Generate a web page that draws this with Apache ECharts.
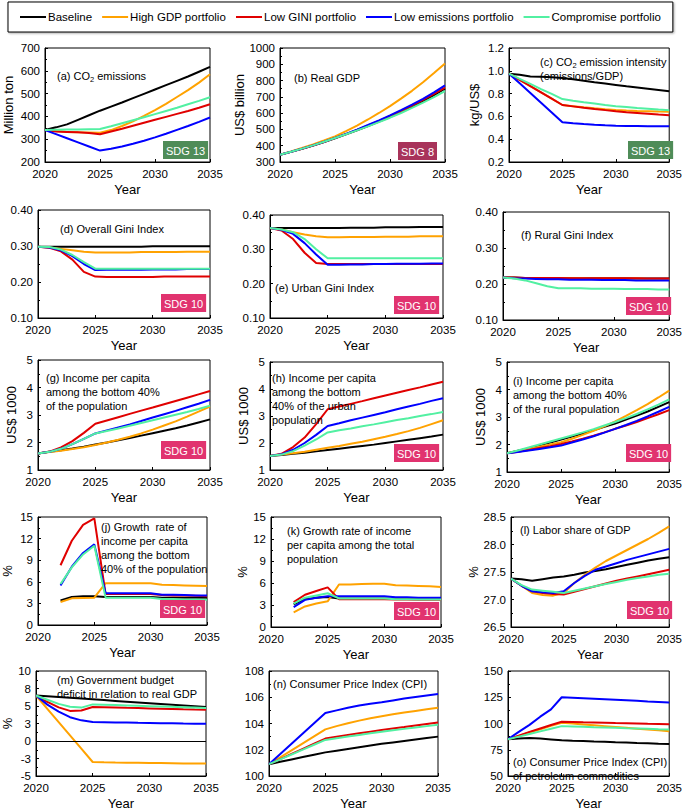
<!DOCTYPE html>
<html>
<head>
<meta charset="utf-8">
<script src="https://cdn.jsdelivr.net/npm/echarts@6/dist/echarts.min.js"></script>
<style>
html,body{margin:0;padding:0;background:#fff;}
#chart{width:685px;height:811px;}
</style>
</head>
<body>
<div id="chart"></div>
<script>
// ---------- data ----------
const years = [2020,2021,2022,2023,2024,2025,2026,2027,2028,2029,2030,2031,2032,2033,2034,2035];
const scenarioNames = ['Baseline','High GDP portfolio','Low GINI portfolio','Low emissions portfolio','Compromise portfolio'];

// (a) CO2 emissions, million ton
const co2Base = [340,352,365,385,405,425,443,461,480,499,518,537,556,575,596,617];
const co2Gdp  = [340,336,332,330,329,328,340,358,378,402,428,455,485,515,548,585];
const co2Gini = [340,334,332,330,327,322,334,346,359,372,385,398,411,424,438,453];
const co2Emis = [340,322,304,286,268,250,258,268,280,293,308,324,341,358,376,395];
const co2Comp = [340,341,342,343,344,345,357,370,383,396,410,424,438,453,468,484];

// (b) Real GDP, US$ billion
const gdpBase = [345,362,381,401,423,446,470,495,521,548,576,606,638,672,710,750];
const gdpGdp  = [345,365,386,408,432,457,489,524,561,601,643,689,737,790,846,905];
const gdpGini = [345,362,381,401,423,447,471,497,524,552,582,613,646,681,718,757];
const gdpEmis = [345,363,382,402,424,448,473,499,527,556,586,618,652,688,728,770];
const gdpComp = [345,363,382,402,424,447,470,494,519,545,572,601,632,664,698,735];

// (c) CO2 emission intensity, kg/US$
const intBase = [0.975,0.965,0.95,0.947,0.943,0.937,0.925,0.913,0.9,0.888,0.876,0.864,0.853,0.842,0.831,0.82];
const intGdp  = [0.975,0.92,0.865,0.81,0.755,0.70,0.69,0.68,0.671,0.663,0.657,0.652,0.648,0.645,0.642,0.64];
const intGini = [0.975,0.92,0.865,0.81,0.755,0.70,0.688,0.676,0.665,0.655,0.645,0.637,0.63,0.623,0.616,0.61];
const intEmis = [0.975,0.89,0.805,0.72,0.635,0.548,0.54,0.533,0.527,0.522,0.518,0.516,0.515,0.514,0.513,0.513];
const intComp = [0.975,0.93,0.885,0.84,0.797,0.752,0.738,0.725,0.713,0.70,0.69,0.682,0.674,0.667,0.66,0.655];

// (d) Overall Gini
const giniBase = [0.298,0.298,0.298,0.298,0.298,0.298,0.298,0.298,0.298,0.298,0.299,0.299,0.299,0.299,0.299,0.299];
const giniGdp  = [0.298,0.296,0.292,0.288,0.284,0.282,0.282,0.282,0.282,0.283,0.283,0.283,0.283,0.284,0.284,0.284];
const giniGini = [0.298,0.295,0.285,0.262,0.228,0.215,0.214,0.214,0.214,0.214,0.214,0.215,0.215,0.215,0.215,0.215];
const giniEmis = [0.298,0.296,0.288,0.272,0.25,0.233,0.234,0.234,0.234,0.234,0.235,0.235,0.235,0.236,0.236,0.236];
const giniComp = [0.298,0.297,0.29,0.275,0.255,0.237,0.237,0.237,0.237,0.237,0.237,0.237,0.237,0.237,0.237,0.237];

// (e) Urban Gini
const urbBase = [0.362,0.362,0.362,0.362,0.362,0.362,0.362,0.363,0.363,0.363,0.364,0.364,0.364,0.365,0.365,0.365];
const urbGdp  = [0.362,0.358,0.350,0.343,0.338,0.335,0.335,0.336,0.336,0.336,0.337,0.337,0.337,0.338,0.338,0.338];
const urbGini = [0.362,0.355,0.33,0.29,0.26,0.257,0.257,0.257,0.257,0.257,0.257,0.257,0.257,0.257,0.257,0.257];
const urbEmis = [0.362,0.357,0.345,0.318,0.285,0.255,0.255,0.256,0.256,0.257,0.257,0.258,0.258,0.258,0.259,0.259];
const urbComp = [0.362,0.358,0.35,0.33,0.30,0.274,0.274,0.274,0.274,0.274,0.274,0.274,0.274,0.274,0.274,0.274];

// (f) Rural Gini
const rurBase = [0.218,0.218,0.217,0.217,0.217,0.217,0.217,0.216,0.216,0.216,0.216,0.216,0.215,0.215,0.215,0.215];
const rurGdp  = [0.218,0.217,0.217,0.216,0.216,0.216,0.216,0.216,0.215,0.215,0.215,0.215,0.215,0.214,0.214,0.214];
const rurGini = [0.218,0.218,0.217,0.217,0.217,0.217,0.216,0.216,0.216,0.216,0.216,0.216,0.216,0.215,0.215,0.215];
const rurEmis = [0.218,0.216,0.215,0.214,0.213,0.213,0.212,0.212,0.212,0.211,0.211,0.211,0.210,0.210,0.210,0.210];
const rurComp = [0.218,0.215,0.21,0.202,0.194,0.188,0.188,0.188,0.187,0.187,0.187,0.186,0.186,0.186,0.185,0.185];

// (g) Income per capita bottom 40%, US$ 1000
const incBase = [1.6,1.66,1.72,1.78,1.85,1.93,2.0,2.08,2.16,2.25,2.34,2.43,2.52,2.62,2.73,2.84];
const incGdp  = [1.6,1.65,1.7,1.76,1.83,1.91,2.0,2.1,2.21,2.33,2.47,2.62,2.77,2.94,3.12,3.31];
const incGini = [1.6,1.67,1.82,2.05,2.35,2.68,2.80,2.92,3.04,3.16,3.27,3.39,3.51,3.63,3.75,3.87];
const incEmis = [1.6,1.66,1.77,1.94,2.13,2.33,2.44,2.55,2.66,2.78,2.91,3.03,3.15,3.28,3.41,3.55];
const incComp = [1.6,1.66,1.77,1.94,2.13,2.33,2.42,2.51,2.61,2.71,2.81,2.91,3.01,3.11,3.22,3.34];

// (h) Income per capita bottom 40% urban
const urbIncBase = [1.52,1.56,1.6,1.64,1.69,1.74,1.79,1.84,1.89,1.94,2.0,2.06,2.12,2.18,2.24,2.31];
const urbIncGdp  = [1.52,1.57,1.62,1.68,1.75,1.82,1.89,1.97,2.05,2.14,2.23,2.33,2.44,2.56,2.7,2.84];
const urbIncGini = [1.52,1.6,1.85,2.2,2.7,3.25,3.35,3.45,3.55,3.66,3.76,3.86,3.96,4.06,4.17,4.27];
const urbIncEmis = [1.52,1.58,1.75,2.0,2.3,2.63,2.73,2.84,2.94,3.04,3.14,3.25,3.35,3.45,3.56,3.66];
const urbIncComp = [1.52,1.57,1.7,1.9,2.13,2.39,2.47,2.54,2.62,2.69,2.77,2.85,2.92,3.0,3.07,3.15];

// (i) Income per capita bottom 40% rural
const rurIncBase = [1.68,1.77,1.86,1.97,2.07,2.18,2.29,2.40,2.52,2.64,2.76,2.91,3.05,3.2,3.37,3.54];
const rurIncGdp  = [1.68,1.76,1.84,1.92,2.0,2.08,2.21,2.35,2.5,2.66,2.84,3.04,3.25,3.47,3.71,3.96];
const rurIncGini = [1.68,1.74,1.8,1.87,1.94,2.02,2.11,2.21,2.32,2.44,2.57,2.69,2.82,2.96,3.1,3.25];
const rurIncEmis = [1.68,1.73,1.78,1.84,1.9,1.96,2.07,2.18,2.3,2.43,2.57,2.71,2.86,3.02,3.19,3.37];
const rurIncComp = [1.68,1.78,1.89,2.0,2.11,2.22,2.33,2.44,2.56,2.69,2.82,2.96,3.11,3.28,3.45,3.64];

// (j) Growth rate of income per capita bottom 40%, %
const grBase = [null,null,3.4,3.9,4.0,4.0,3.9,3.9,3.9,3.9,3.9,3.8,3.8,3.8,3.8,3.8];
const grGdp  = [null,null,3.2,3.7,3.75,3.8,5.8,5.8,5.8,5.8,5.8,5.6,5.55,5.5,5.45,5.4];
const grGini = [null,null,8.3,11.7,13.9,14.8,4.3,4.3,4.3,4.3,4.3,4.15,4.1,4.1,4.05,4.0];
const grEmis = [null,null,5.5,8.1,10.0,11.2,4.4,4.4,4.4,4.4,4.4,4.2,4.2,4.15,4.1,4.1];
const grComp = [null,null,5.7,8.0,9.8,11.0,3.8,3.8,3.8,3.8,3.8,3.6,3.6,3.55,3.55,3.5];

// (k) Growth rate of income per capita total, %
const gtBase = [null,null,3.1,3.8,4.0,4.1,3.9,3.9,3.9,3.9,3.9,3.85,3.85,3.85,3.85,3.85];
const gtGdp  = [null,null,2.0,2.8,3.2,3.5,5.8,5.8,5.85,5.9,5.9,5.7,5.65,5.6,5.55,5.45];
const gtGini = [null,null,3.4,4.4,4.9,5.4,3.8,3.8,3.8,3.8,3.8,3.75,3.75,3.7,3.7,3.7];
const gtEmis = [null,null,2.7,3.7,4.0,4.2,4.2,4.2,4.2,4.2,4.2,4.05,4.05,4.0,4.0,4.0];
const gtComp = [null,null,3.2,4.0,4.3,4.6,3.9,3.9,3.9,3.9,3.9,3.8,3.8,3.75,3.75,3.75];

// (l) Labor share of GDP, %
const labBase = [27.38,27.37,27.34,27.37,27.40,27.42,27.45,27.49,27.52,27.55,27.59,27.63,27.67,27.71,27.74,27.77];
const labGdp  = [27.38,27.25,27.12,27.08,27.07,27.12,27.3,27.45,27.58,27.7,27.8,27.9,28.0,28.1,28.21,28.33];
const labGini = [27.38,27.25,27.15,27.12,27.1,27.09,27.14,27.19,27.24,27.29,27.34,27.38,27.42,27.46,27.5,27.54];
const labEmis = [27.38,27.25,27.15,27.13,27.12,27.15,27.3,27.43,27.54,27.6,27.66,27.72,27.77,27.82,27.87,27.92];
const labComp = [27.38,27.26,27.18,27.16,27.14,27.12,27.16,27.2,27.24,27.28,27.32,27.36,27.39,27.42,27.45,27.47];

// (m) Government budget deficit / real GDP, %
const defBase = [6.5,6.39,6.28,6.17,6.06,5.95,5.84,5.73,5.62,5.51,5.4,5.29,5.18,5.07,4.96,4.85];
const defGdp  = [6.5,4.6,2.7,0.8,-1.1,-3.0,-3.05,-3.08,-3.1,-3.12,-3.14,-3.16,-3.18,-3.2,-3.21,-3.23];
const defGini = [6.5,5.6,4.8,4.3,4.35,4.86,4.82,4.78,4.74,4.7,4.66,4.62,4.58,4.53,4.49,4.45];
const defEmis = [6.5,5.2,4.2,3.4,2.95,2.7,2.68,2.65,2.63,2.6,2.58,2.55,2.53,2.5,2.48,2.45];
const defComp = [6.5,5.9,5.3,4.9,4.77,5.23,5.18,5.13,5.08,5.03,4.98,4.93,4.88,4.83,4.78,4.73];

// (n) CPI
const cpiBase = [100.9,101.08,101.26,101.44,101.62,101.8,101.93,102.06,102.19,102.32,102.45,102.56,102.67,102.78,102.89,103.0];
const cpiGdp  = [100.9,101.43,101.96,102.49,103.02,103.55,103.8,104.02,104.22,104.4,104.56,104.7,104.84,104.96,105.08,105.2];
const cpiGini = [100.9,101.29,101.68,102.07,102.46,102.85,102.99,103.13,103.26,103.38,103.5,103.62,103.73,103.85,103.96,104.07];
const cpiEmis = [100.9,101.68,102.46,103.24,104.02,104.8,105.0,105.2,105.37,105.5,105.62,105.76,105.9,106.02,106.14,106.25];
const cpiComp = [100.9,101.27,101.64,102.01,102.38,102.75,102.88,103.01,103.13,103.25,103.37,103.48,103.59,103.7,103.8,103.9];

// (o) CPI of petroleum commodities
const petBase = [85,85.6,86.1,85.6,84.8,84.0,83.6,83.3,82.9,82.6,82.2,81.9,81.5,81.2,80.8,80.5];
const petGdp  = [85,88.2,91.5,94.6,97.7,100.7,99.9,99.1,98.3,97.5,96.7,95.9,95.1,94.3,93.5,92.7];
const petGini = [85,88.5,92,95.3,98.5,101.6,101.4,101.1,100.9,100.7,100.4,100.2,100,99.7,99.5,99.2];
const petEmis = [85,92,98.7,106.5,113.5,125,124.6,124.1,123.6,123.1,122.6,122.1,121.6,121.0,120.5,120.0];
const petComp = [85,87.5,90,92.5,95,97.5,97.2,96.9,96.5,96.2,95.9,95.5,95.2,94.9,94.5,94.2];

// ---------- layout & styling ----------
const FONT = 'Liberation Sans, Arial, sans-serif';
const lineColors = ['#000000','#ffa200','#e00000','#0000ff','#52f0a2'];
const SDG13 = '#4f8c58', SDG8 = '#a8335a', SDG10 = '#e1336f';

const panels = [
  {data:[co2Base,co2Gdp,co2Gini,co2Emis,co2Comp], g:[45,48,165,114], y:[200,700,100], yName:'Million ton', nameGap:30, dec:0,
   title:'(a) CO{sub|2} emissions', tPos:[57,69], sdg:['SDG 13',SDG13,163,141]},
  {data:[gdpBase,gdpGdp,gdpGini,gdpEmis,gdpComp], g:[280,48,165,114], y:[300,1000,100], yName:'US$ billion', nameGap:34, dec:0,
   title:'(b) Real GDP', tPos:[294,71], sdg:['SDG 8',SDG8,398,142]},
  {data:[intBase,intGdp,intGini,intEmis,intComp], g:[509,48,164,114], y:[0.2,1.2,0.2], yName:'kg/US$', nameGap:28, dec:1,
   title:'(c) CO{sub|2} emission intensity\n(emissions/GDP)', tPos:[540,55], sdg:['SDG 13',SDG13,628,141]},
  {data:[giniBase,giniGdp,giniGini,giniEmis,giniComp], g:[38,210,172,108], y:[0.1,0.4,0.1], yName:'', nameGap:0, dec:2,
   title:'(d) Overall Gini Index', tPos:[60,222], sdg:['SDG 10',SDG10,161,294]},
  {data:[urbBase,urbGdp,urbGini,urbEmis,urbComp], g:[270,215,173,103], y:[0.1,0.4,0.1], yName:'', nameGap:0, dec:2,
   title:'(e) Urban Gini Index', tPos:[275,281], sdg:['SDG 10',SDG10,394,296]},
  {data:[rurBase,rurGdp,rurGini,rurEmis,rurComp], g:[503,212,172,108], y:[0.1,0.4,0.1], yName:'', nameGap:0, dec:2,
   title:'(f) Rural Gini Index', tPos:[521,228], sdg:['SDG 10',SDG10,626,297]},
  {data:[incBase,incGdp,incGini,incEmis,incComp], g:[38,360,172,110], y:[1,5,1], yName:'US$ 1000', nameGap:20, dec:0,
   title:'(g) Income per capita\namong the bottom 40%\nof the population', tPos:[46,371], sdg:['SDG 10',SDG10,161,441]},
  {data:[urbIncBase,urbIncGdp,urbIncGini,urbIncEmis,urbIncComp], g:[270,362,173,108], y:[1,5,1], yName:'US$ 1000', nameGap:20, dec:0,
   title:'(h) Income per capita\namong the bottom\n40% of the urban\npopulation', tPos:[272,371], sdg:['SDG 10',SDG10,394,444]},
  {data:[rurIncBase,rurIncGdp,rurIncGini,rurIncEmis,rurIncComp], g:[507,362,168,110], y:[1,5,1], yName:'US$ 1000', nameGap:20, dec:0,
   title:'(i) Income per capita\namong the bottom 40%\nof the rural population', tPos:[513,374], sdg:['SDG 10',SDG10,626,444]},
  {data:[grBase,grGdp,grGini,grEmis,grComp], g:[36,517,171,108], y:[0,15,3], yName:'%', nameGap:24, dec:0,
   title:'(j) Growth  rate of\nincome per capita\namong the bottom\n40% of the population', tPos:[101,520], sdg:['SDG 10',SDG10,160,600]},
  {data:[gtBase,gtGdp,gtGini,gtEmis,gtComp], g:[271,517,170,110], y:[0,15,3], yName:'%', nameGap:22, dec:0,
   title:'(k) Growth rate of income\nper capita among the total\npopulation', tPos:[287,524], sdg:['SDG 10',SDG10,394,602]},
  {data:[labBase,labGdp,labGini,labEmis,labComp], g:[511,517,162,110], y:[26.5,28.5,0.5], yName:'%', nameGap:24, dec:1,
   title:'(l) Labor share of GDP', tPos:[520,523], sdg:['SDG 10',SDG10,627,601]},
  {data:[defBase,defGdp,defGini,defEmis,defComp], g:[34,671,172,109], y:[-5,10,2.5], yName:'%', nameGap:22, dec:-1, zero:true,
   title:'(m) Government budget\ndeficit in relation to real GDP', tPos:[57,673], sdg:null},
  {data:[cpiBase,cpiGdp,cpiGini,cpiEmis,cpiComp], g:[269,671,169,111], y:[100,108,2], yName:'', nameGap:0, dec:0,
   title:'(n) Consumer Price Index (CPI)', tPos:[273,677], sdg:null},
  {data:[petBase,petGdp,petGini,petEmis,petComp], g:[508,671,165,112], y:[50,150,25], yName:'', nameGap:0, dec:0,
   title:'(o) Consumer Price Index (CPI)\nof petroleum commodities', tPos:[513,755], sdg:null}
];

const grids = [], xAxes = [], yAxes = [], series = [], titles = [];
panels.forEach((p, i) => {
  grids.push({left:p.g[0], top:p.g[1], width:p.g[2], height:p.g[3], show:true,
    borderColor:'#000', borderWidth:1, backgroundColor:'transparent', containLabel:false});
  xAxes.push({type:'value', gridIndex:i, min:2020, max:2035, interval:5,
    name:'Year', nameLocation:'middle', nameGap:21,
    nameTextStyle:{fontFamily:FONT, fontSize:13, color:'#000'},
    axisLine:{onZero:false, lineStyle:{color:'#000', width:1}},
    axisTick:{inside:true, length:3, lineStyle:{color:'#000'}},
    axisLabel:{fontFamily:FONT, fontSize:11.5, color:'#000', margin:6, formatter: v => String(v)},
    splitLine:{show:false}});
  const dec = p.dec;
  yAxes.push({type:'value', gridIndex:i, min:p.y[0], max:p.y[1], interval:p.y[2],
    name:p.yName, nameLocation:'middle', nameGap:p.nameGap,
    nameTextStyle:{fontFamily:FONT, fontSize:13, color:'#000'},
    axisLine:{lineStyle:{color:'#000', width:1}},
    axisTick:{inside:true, length:3, lineStyle:{color:'#000'}},
    minorTick:{show:true, splitNumber:2, length:2, lineStyle:{color:'#000'}},
    axisLabel:{fontFamily:FONT, fontSize:11.5, color:'#000', margin:5,
      formatter: v => dec < 0 ? String(Math.sign(v)*Math.round(Math.abs(v))) : v.toFixed(dec)},
    splitLine:{show:false}});
  p.data.forEach((arr, k) => {
    const s = {type:'line', name:scenarioNames[k], xAxisIndex:i, yAxisIndex:i,
      data: arr.map((v, j) => [years[j], v]),
      symbol:'none', connectNulls:false, smooth:false,
      lineStyle:{color:lineColors[k], width:2},
      itemStyle:{color:lineColors[k]},
      emphasis:{disabled:true}, animation:false};
    if (p.zero && k === 0) {
      s.markLine = {silent:true, symbol:'none', label:{show:false},
        lineStyle:{color:'#000', width:1, type:'solid'}, data:[{yAxis:0}], animation:false};
    }
    series.push(s);
  });
  titles.push({text:p.title, left:p.tPos[0], top:p.tPos[1], padding:0,
    textStyle:{fontFamily:FONT, fontSize:11, fontWeight:'normal', color:'#000', lineHeight:14,
      rich:{sub:{fontFamily:FONT, fontSize:7.5, color:'#000', verticalAlign:'bottom', padding:[6,0,0,0]}}}});
  if (p.sdg) {
    titles.push({text:p.sdg[0], left:p.sdg[2], top:p.sdg[3], padding:[3,3,2,3],
      backgroundColor:p.sdg[1],
      textStyle:{fontFamily:FONT, fontSize:11, fontWeight:'normal', color:'#fff', lineHeight:13}});
  }
});

const chart = echarts.init(document.getElementById('chart'), null, {renderer:'svg'});
chart.setOption({
  animation:false,
  backgroundColor:'#fff',
  title: titles,
  legend:{data:scenarioNames, left:8, top:2, padding:[9,12,9,12], itemGap:10,
    itemWidth:26, itemHeight:14, icon:'path://M0,0 H26 V2 H0 Z',
    borderColor:'#000', borderWidth:1, backgroundColor:'#fff',
    shadowColor:'rgba(0,0,0,0.35)', shadowBlur:2, shadowOffsetX:1, shadowOffsetY:1,
    textStyle:{fontFamily:FONT, fontSize:11.5, color:'#000', padding:[0,0,0,-3]},
    selectedMode:false},
  grid: grids,
  xAxis: xAxes,
  yAxis: yAxes,
  series: series
});
</script>
</body>
</html>
